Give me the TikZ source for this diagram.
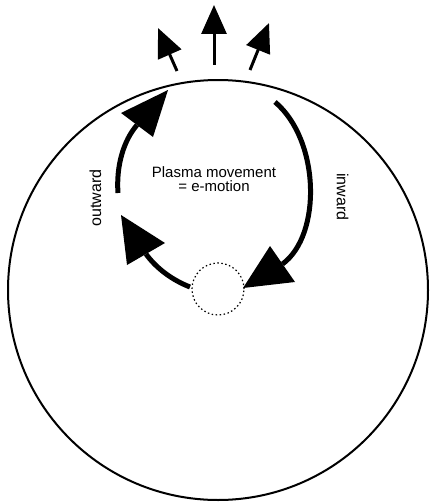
\documentclass[tikz,border=0pt]{standalone}
\usepackage{fontspec}
\setmainfont{Liberation Sans}
\usetikzlibrary{arrows.meta}
\begin{document}
\begin{tikzpicture}[x=1pt,y=-1pt,
  thickarc/.style={line width=5pt},
  bighead/.style={fill=black},
  ray/.style={line width=3pt,-{Triangle[length=29pt,width=25pt]}},
  lbl/.style={font=\fontsize{16}{19}\selectfont, inner sep=0pt}]
\useasboundingbox (0,0) rectangle (429,503);
% big circle
\node[draw, circle, line width=2pt, minimum size=420pt, inner sep=0pt] (sun) at (218,290) {};
% dotted core
\node[draw, circle, line width=1.2pt, dash pattern=on 1.5pt off 2.5pt, minimum size=52pt, inner sep=0pt] (core) at (218,289) {};
% coordinates of the loop
\coordinate (rA) at (275,102);
\coordinate (rB) at (282.5,264);
\coordinate (uA) at (118,193);
\coordinate (uB) at (137,125);
\coordinate (lA) at (190,287);
\coordinate (lB) at (146,254);
% inward arc
\draw[thickarc] (rA) .. controls (320,140) and (322,235) .. (rB);
\fill[bighead] (243,288) -- (270,246) -- (295,282) -- cycle;
% outward upper arc
\draw[thickarc] (uA) .. controls (116,165) and (124,140) .. (uB);
\fill[bighead] (168,90) -- (121,113) -- (153,137) -- cycle;
% outward lower arc
\draw[thickarc] (lA) .. controls (172,280) and (156,268) .. (lB);
\fill[bighead] (121,215) -- (127,265) -- (165,243) -- cycle;
% rays
\coordinate (m0) at (214,65);
\coordinate (m1) at (214,5);
\coordinate (a0) at (177,71);
\coordinate (a1) at (158,28);
\coordinate (b0) at (250,70);
\coordinate (b1) at (269,23);
\draw[ray] (m0) -- (m1);
\draw[ray] (a0) -- (a1);
\draw[ray] (b0) -- (b1);
% labels
\node[lbl, rotate=90] (out) at (95.5,198) {outward};
\node[lbl, rotate=-90] (in) at (342.5,197) {inward};
\node[font=\fontsize{15}{13.5}\selectfont, align=center, inner sep=0pt] (label) at (214,179) {Plasma movement\\= e-motion};
\end{tikzpicture}
\end{document}
